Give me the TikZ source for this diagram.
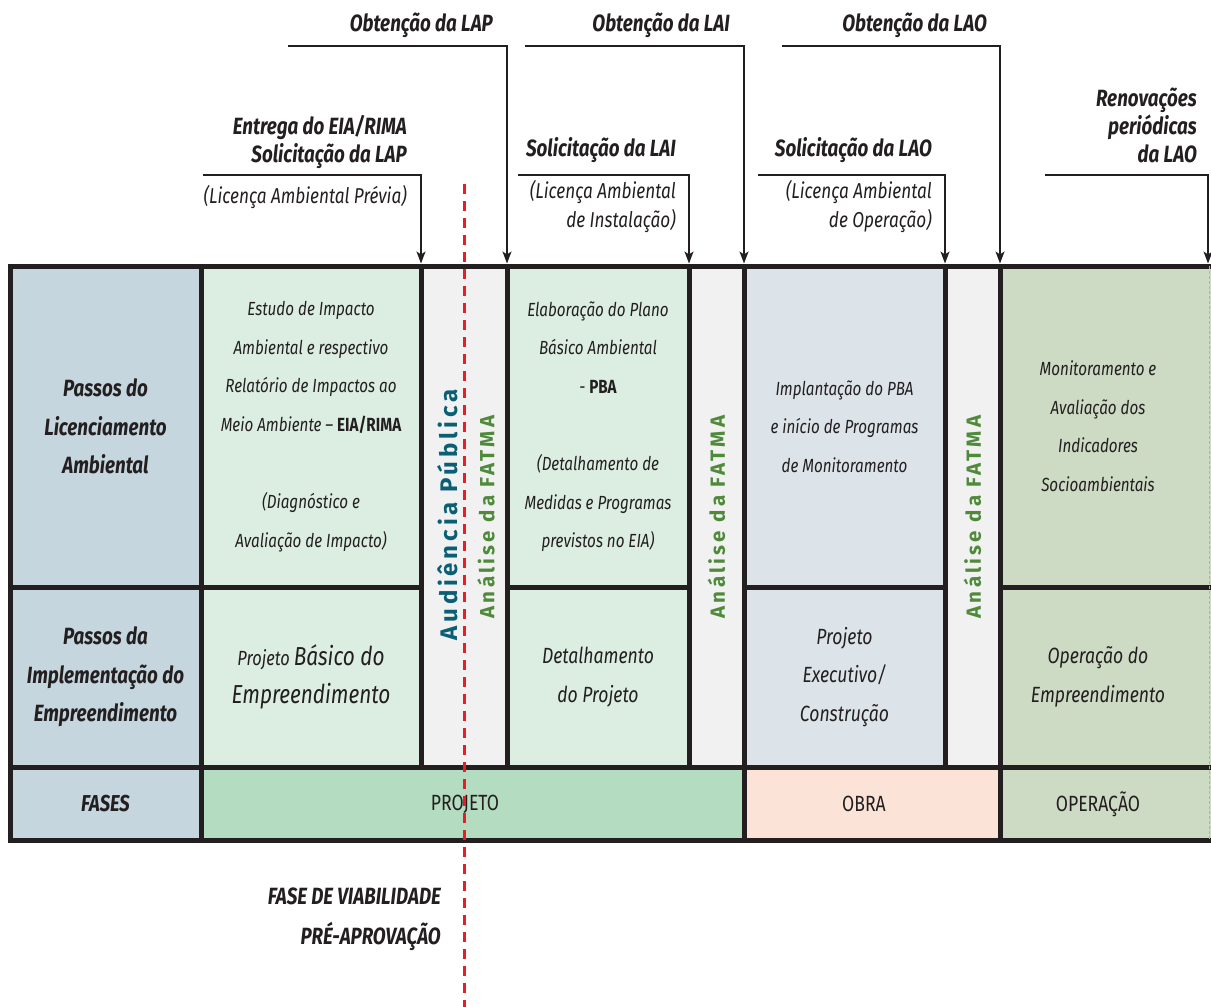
\documentclass[tikz,border=0pt]{standalone}
\usepackage{fontspec}
\setmainfont[FakeStretch=0.8]{Fira Sans}
\newfontfamily\spacedfont[LetterSpace=16]{Fira Sans}
\usetikzlibrary{arrows.meta}
\definecolor{ink}{HTML}{231F20}
\definecolor{leftc}{HTML}{C6D6DE}
\definecolor{greenl}{HTML}{DCEEE1}
\definecolor{gapc}{HTML}{F1F1F2}
\definecolor{bluel}{HTML}{DCE4EA}
\definecolor{sage}{HTML}{CDDAC4}
\definecolor{projc}{HTML}{B3DCC0}
\definecolor{obrac}{HTML}{FCE3D7}
\definecolor{tealc}{HTML}{0B5F74}
\definecolor{fatc}{HTML}{4F8A3B}
\definecolor{redc}{HTML}{ED1C24}
\begin{document}
\begin{tikzpicture}[x=1pt,y=-1pt,
  cell/.style={draw=ink, line width=5pt, inner sep=0pt, outer sep=0pt, anchor=north west, align=center, text=ink,
    font=\fontsize{19}{38.6}\selectfont\itshape},
  cellbig/.style={cell, font=\fontsize{22}{38.6}\selectfont\itshape},
  cellhead/.style={cell, font=\fontsize{23.5}{38.6}\selectfont\bfseries\itshape},
  celltext/.style={inner sep=0pt, align=center, text=ink, font=\fontsize{19}{38.6}\selectfont\itshape},
  phase/.style={cell, font=\fontsize{22}{24}\selectfont},
  phasetext/.style={inner sep=0pt, text=ink, font=\fontsize{22}{24}\selectfont},
  hdr/.style={anchor=base east, inner sep=0pt, text=ink, font=\fontsize{23.5}{28}\selectfont\bfseries\itshape},
  sub/.style={anchor=base east, inner sep=0pt, text=ink, font=\fontsize{21.5}{29}\selectfont\itshape},
  foot/.style={anchor=base east, inner sep=0pt, text=ink, font=\fontsize{23.5}{28}\selectfont\bfseries\itshape},
  vaud/.style={rotate=90, inner sep=0pt, text=tealc, font={\spacedfont\fontsize{24}{26}\selectfont\bfseries}},
  vfat/.style={rotate=90, inner sep=0pt, text=fatc, font={\spacedfont\fontsize{20.5}{22}\selectfont\bfseries}},
  conn/.style={draw=ink, line width=1.3pt, -{Stealth[length=12pt,width=9pt,inset=3pt]}},
  reddash/.style={draw=redc, line width=3pt, dash pattern=on 10pt off 7pt}
]
\useasboundingbox[fill=white] (0,0) rectangle (1211,1007);

% row 1
\node[cellhead, fill=leftc, minimum width=191pt, minimum height=321pt] (lic) at (10,266) {Passos do\\Licenciamento\\Ambiental};
\node[cell, fill=greenl, minimum width=220pt, minimum height=321pt] (eia) at (201,266)
  {Estudo de Impacto\\Ambiental e respectivo\\Relatório de Impactos ao\\Meio Ambiente – \textbf{\upshape EIA/RIMA}\\[38.6pt](Diagnóstico e\\Avaliação de Impacto)};
\node[cell, fill=gapc, minimum width=86pt, minimum height=501pt] (aud) at (421,266) {};
\node[cell, fill=greenl, minimum width=182pt, minimum height=321pt] (pba) at (507,266)
  {Elaboração do Plano\\Básico Ambiental\\- \textbf{\upshape PBA}\\[38.6pt](Detalhamento de\\Medidas e Programas\\previstos no EIA)};
\node[cell, fill=gapc, minimum width=55pt, minimum height=501pt] (fat1) at (689,266) {};
\node[cell, fill=bluel, minimum width=201pt, minimum height=321pt] (impl) at (744,266)
  {Implantação do PBA\\e início de Programas\\de Monitoramento};
\node[cell, fill=gapc, minimum width=55pt, minimum height=501pt] (fat2) at (945,266) {};
\node[cell, fill=sage, minimum width=216pt, minimum height=321pt] (mon) at (1000,266) {};
\node[celltext] (mont) at (1098,426) {Monitoramento e\\Avaliação dos\\Indicadores\\Socioambientais};

% row 2
\node[cellhead, fill=leftc, minimum width=191pt, minimum height=180pt] (imp) at (10,587) {Passos da\\Implementação do\\Empreendimento};
\node[cell, fill=greenl, minimum width=220pt, minimum height=180pt] (bas) at (201,587)
  {{\fontsize{20.5}{38.6}\selectfont Projeto} {\fontsize{26}{38.6}\selectfont Básico do}\\{\fontsize{26}{38.6}\selectfont Empreendimento}};
\node[cellbig, fill=greenl, minimum width=182pt, minimum height=180pt] (det) at (507,587) {Detalhamento\\do Projeto};
\node[cellbig, fill=bluel, minimum width=201pt, minimum height=180pt] (exe) at (744,587) {Projeto\\Executivo/\\Construção};
\node[cell, fill=sage, minimum width=216pt, minimum height=180pt] (oper) at (1000,587) {};
\node[celltext, font=\fontsize{22}{38.6}\selectfont\itshape] (opert) at (1098,677) {Operação do\\Empreendimento};

% row 3
\node[cellhead, fill=leftc, minimum width=191pt, minimum height=73pt, font=\fontsize{23}{24}\selectfont\bfseries\itshape] (fases) at (10,767) {FASES};
\node[phase, fill=projc, minimum width=543pt, minimum height=73pt] (proj) at (201,767) {};
\node[phasetext] (projt) at (465,804) {PROJETO};
\node[phase, fill=obrac, minimum width=256pt, minimum height=73pt] (obra) at (744,767) {};
\node[phasetext] (obrat) at (864,804) {OBRA};
\node[phase, fill=sage, minimum width=216pt, minimum height=73pt] (opera) at (1000,767) {};
\node[phasetext] (operat) at (1098,804) {OPERAÇÃO};

% right thin edge
\coordinate (re1) at (1209,266);
\coordinate (re2) at (1209,840);
\draw[gray!60, line width=0.6pt, dash pattern=on 3pt off 2pt] (re1) -- (re2);

% vertical texts
\node[vaud] (audt) at (448,515) {Audiência Pública};
\node[vfat] (fat0t) at (486,517) {Análise da FATMA};
\node[vfat] (fat1t) at (716.5,517) {Análise da FATMA};
\node[vfat] (fat2t) at (972.5,517) {Análise da FATMA};

% headers
\node[hdr] (hObtLAP) at (493,31) {Obtenção da LAP};
\node[hdr] (hObtLAI) at (730,31) {Obtenção da LAI};
\node[hdr] (hObtLAO) at (987,31) {Obtenção da LAO};
\node[hdr] (hEnt) at (407,134) {Entrega do EIA/RIMA};
\node[hdr] (hSolLAP) at (407,162) {Solicitação da LAP};
\node[sub] (sLAP) at (407,203) {(Licença Ambiental Prévia)};
\node[hdr] (hSolLAI) at (676,156) {Solicitação da LAI};
\node[sub] (sLAI1) at (676,198) {(Licença Ambiental};
\node[sub] (sLAI2) at (676,227) {de Instalação)};
\node[hdr] (hSolLAO) at (932,156) {Solicitação da LAO};
\node[sub] (sLAO1) at (932,198) {(Licença Ambiental};
\node[sub] (sLAO2) at (932,227) {de Operação)};
\node[hdr] (hRen1) at (1197,106) {Renovações};
\node[hdr] (hRen2) at (1197,134) {periódicas};
\node[hdr] (hRen3) at (1197,162) {da LAO};

% connectors
\coordinate (cEnt) at (203,175);
\coordinate (cObtLAP) at (288,46);
\coordinate (cSolLAI) at (518,175);
\coordinate (cObtLAI) at (525,46);
\coordinate (cSolLAO) at (758,175);
\coordinate (cObtLAO) at (782,46);
\coordinate (cRen) at (1045,175);
\coordinate (cRenEnd) at (1208,263.5);
\draw[conn] (cEnt) -| ([yshift=2.5pt]aud.north west);
\draw[conn] (cObtLAP) -| ([yshift=2.5pt]aud.north east);
\draw[conn] (cSolLAI) -| ([yshift=2.5pt]fat1.north west);
\draw[conn] (cObtLAI) -| ([yshift=2.5pt]fat1.north east);
\draw[conn] (cSolLAO) -| ([yshift=2.5pt]fat2.north west);
\draw[conn] (cObtLAO) -| ([yshift=2.5pt]fat2.north east);
\draw[conn] (cRen) -| (cRenEnd);

% red dashed line
\coordinate (rTop) at (464,184);
\coordinate (rBot) at (464,1007);
\draw[reddash] (rTop) -- (rBot);

% footer
\node[foot] (fv1) at (441,904) {FASE DE VIABILIDADE};
\node[foot] (fv2) at (441,944) {PRÉ-APROVAÇÃO};
\end{tikzpicture}
\end{document}
